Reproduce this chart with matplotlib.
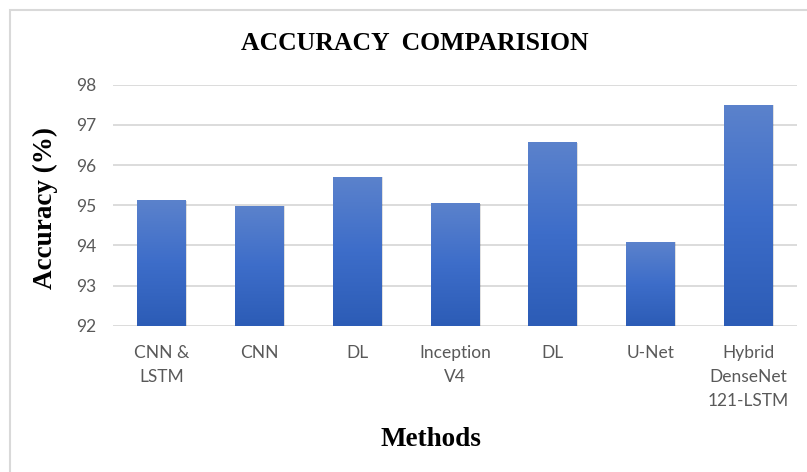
import numpy as np
import matplotlib
matplotlib.use("Agg")
import matplotlib.pyplot as plt
from matplotlib.colors import LinearSegmentedColormap
from matplotlib.patches import Rectangle

methods = ["CNN &\nLSTM", "CNN", "DL", "Inception\nV4", "DL", "U-Net",
           "Hybrid\nDenseNet\n121-LSTM"]
accuracy = [95.12, 94.98, 95.70, 95.04, 96.56, 94.09, 97.50]
y_ticks = [92, 93, 94, 95, 96, 97, 98]

fig = plt.figure(figsize=(8.07, 4.72), dpi=100)
ax = fig.add_axes([0.14, 0.31, 0.8476, 0.5106])

# outer chart frame
fig.patches.append(Rectangle((10 / 807, -0.1), 1.2, 1 - 10 / 472 + 0.1,
                             transform=fig.transFigure, fill=False,
                             edgecolor="#d9d9d9", linewidth=1.5, zorder=0))

ax.set_xlim(-0.5, len(methods) - 0.5)
ax.set_ylim(92, 98)
ymin = ax.get_ylim()[0]

x = np.arange(len(methods))
bars = ax.bar(x, accuracy, width=0.5, color="none", edgecolor="none", zorder=3)

# vertical gradient fill for each bar (lighter at top, deeper at bottom)
cmap = LinearSegmentedColormap.from_list(
    "bar_grad", ["#2c5cb6", "#3d6dc9", "#5b82cc"])
grad = np.linspace(0, 1, 256).reshape(-1, 1)
for b in bars:
    x0, w = b.get_x(), b.get_width()
    top = b.get_y() + b.get_height()
    # soft shadow
    ax.add_patch(Rectangle((x0 + 0.012, ymin), w, top - ymin - 0.01,
                           facecolor="#000000", alpha=0.12, edgecolor="none",
                           zorder=2))
    ax.imshow(grad, cmap=cmap, origin="lower", aspect="auto",
              extent=(x0, x0 + w, ymin, top), zorder=3)

ax.set_xlim(-0.5, len(methods) - 0.5)
ax.set_ylim(92, 98)
ax.set_yticks(y_ticks)
ax.set_xticks(x)
ax.set_xticklabels(methods, linespacing=1.62)
ax.grid(axis="y", color="#d9d9d9", linewidth=1.3, zorder=0)
ax.set_axisbelow(True)
for s in ax.spines.values():
    s.set_visible(False)

tick_family = ["Lato", "DejaVu Sans"]
for lab in ax.get_xticklabels() + ax.get_yticklabels():
    lab.set_fontfamily(tick_family)
    lab.set_fontsize(12.5)
    lab.set_color("#595959")
ax.tick_params(axis="both", length=0)
ax.tick_params(axis="x", pad=14)
ax.tick_params(axis="y", pad=12)

serif = ["Liberation Serif", "DejaVu Serif"]
fig.text(415 / 807, 1 - 44 / 472, "ACCURACY  COMPARISION", ha="center",
         va="center", fontsize=18.5, fontweight="bold", family=serif)
fig.text(45 / 807, 1 - 208 / 472, "Accuracy (%)", ha="center", va="center",
         rotation=90, fontsize=19.5, fontweight="bold", family=serif)
fig.text(431 / 807, 1 - 440 / 472, "Methods", ha="center", va="center",
         fontsize=19.5, fontweight="bold", family=serif)

fig.savefig("out.png", dpi=100)
